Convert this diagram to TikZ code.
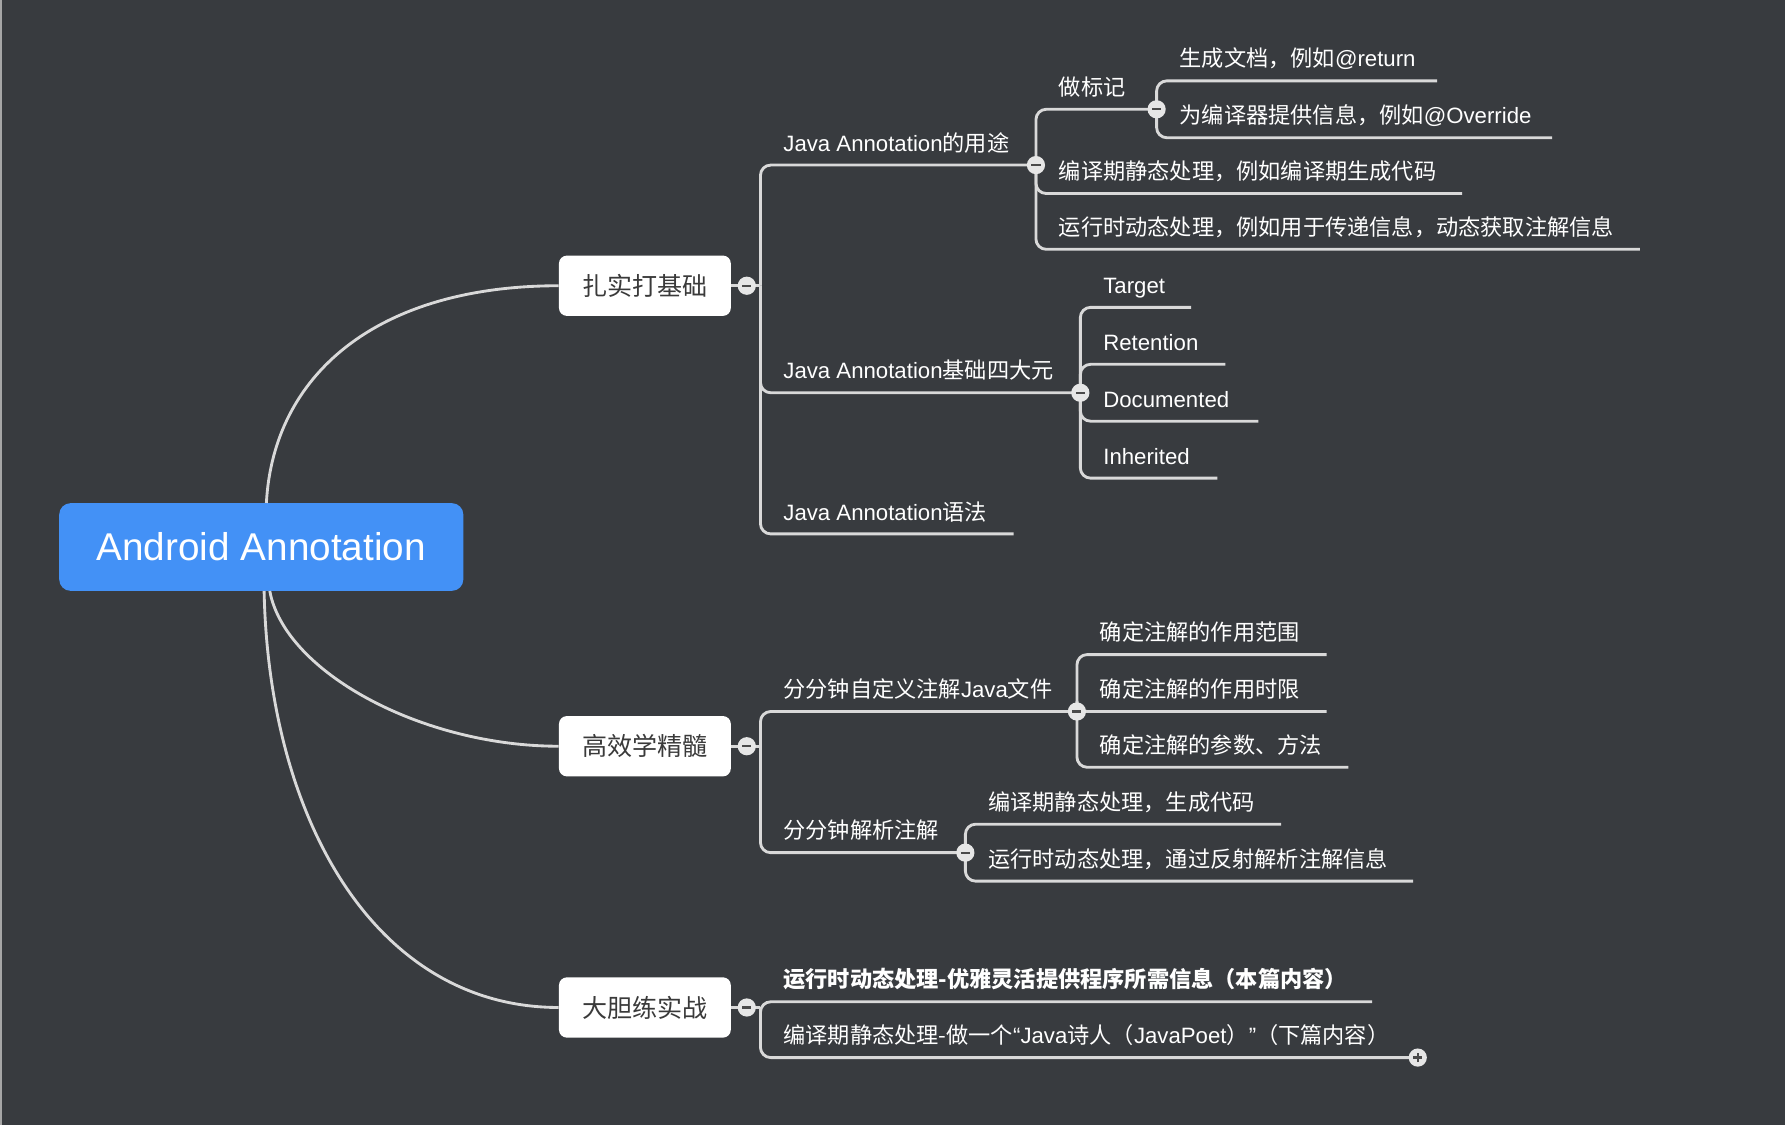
\documentclass[tikz,border=0pt]{standalone}
\usepackage{fontspec}
\setmainfont{Noto Sans CJK SC}
\newfontfamily\latf{Liberation Sans}
\usetikzlibrary{calc}
\definecolor{bg}{HTML}{383B3F}
\definecolor{linec}{HTML}{D9D9D9}
\definecolor{rootblue}{HTML}{4391F6}
\definecolor{boxtext}{HTML}{3A3A3A}
\definecolor{knob}{HTML}{E6E6E6}
\definecolor{knobmark}{HTML}{4A4A4A}
\newcommand\mmbox[2]{\makebox[#1pt][l]{\hspace*{20pt}#2}}
\newcommand\lt[1]{{\latf #1}}
\tikzset{
  conn/.style={draw=linec, line width=2.5pt, rounded corners=9pt},
  curve/.style={draw=linec, line width=2.5pt},
  leaf/.style={anchor=south west, inner xsep=0pt, inner ysep=12pt, text depth=0pt, text=white, font=\fontsize{19.5}{22}\selectfont},
  rootbox/.style={fill=rootblue, rounded corners=10pt, minimum width=355pt, minimum height=77pt, text=white, font=\latf\fontsize{34}{38}\selectfont, inner sep=0pt},
  topicbox/.style={fill=white, rounded corners=7pt, minimum width=151pt, minimum height=53pt, text=boxtext, font=\fontsize{22}{26}\selectfont, inner sep=0pt},
  knobbase/.style={circle, fill=knob, minimum size=16pt, inner sep=0pt},
  minusknob/.style={knobbase, path picture={\draw[knobmark, line width=2pt] ([xshift=-4pt]path picture bounding box.center) -- ([xshift=4pt]path picture bounding box.center);}},
  plusknob/.style={knobbase, path picture={\draw[knobmark, line width=2pt] ([xshift=-4pt]path picture bounding box.center) -- ([xshift=4pt]path picture bounding box.center) ([yshift=-4pt]path picture bounding box.center) -- ([yshift=4pt]path picture bounding box.center);}},
}
\begin{document}
\begin{tikzpicture}[x=1pt, y=-1pt]
\useasboundingbox (0,0) rectangle (1568,988);
\fill[bg] (0,0) rectangle (1568,988);
\fill[gray!70] (0,0) rectangle (1.5,988);

% root and topics
\node[rootbox] (root) at (229.5,480.5) {Android Annotation};
\node[topicbox] (t1) at (566.5,251) {扎实打基础};
\node[topicbox] (t2) at (566.5,655.5) {高效学精髓};
\node[topicbox] (t3) at (566.5,885) {大胆练实战};

\draw[curve] ([xshift=4.5pt]root.north) .. controls (240,330) and (330,251) .. (t1.west);
\draw[curve] ([xshift=7.5pt]root.south) .. controls (250,590) and (370,655.5) .. (t2.west);
\draw[curve] ([xshift=2.5pt]root.south) .. controls (236,720) and (330,885) .. (t3.west);

% branch points
\coordinate (b1) at (668,251);
\coordinate (b2) at (668,655.5);
\coordinate (b3) at (668,885);
\coordinate (bu) at (910,145);
\coordinate (bm) at (1016,96);
\coordinate (bf) at (949,345);
\coordinate (bz) at (946,625);
\coordinate (bj) at (848,749);

% level 2 under t1
\node[leaf] (use) at (668,145) {\mmbox{242}{\lt{Java Annotation}的用途}};
\node[leaf] (four) at (668,345) {\mmbox{281}{\lt{Java Annotation}基础四大元}};
\node[leaf] (syn) at (668,469) {\mmbox{222}{\lt{Java Annotation}语法}};
% level 3 under use
\node[leaf] (mark) at (910,96) {\mmbox{106}{做标记}};
\node[leaf] (comp) at (910,170) {\mmbox{374}{编译期静态处理，例如编译期生成代码}};
\node[leaf] (run) at (910,219) {\mmbox{530}{运行时动态处理，例如用于传递信息，动态获取注解信息}};
% level 4 under mark
\node[leaf] (doc) at (1016,71) {\mmbox{246}{生成文档，例如\lt{@return}}};
\node[leaf] (ovr) at (1016,121) {\mmbox{347}{为编译器提供信息，例如\lt{@Override}}};
% four elements
\node[leaf] (tgt) at (949,270) {\mmbox{97}{\lt{Target}}};
\node[leaf] (ret) at (949,320) {\mmbox{127}{\lt{Retention}}};
\node[leaf] (dcm) at (949,370) {\mmbox{156}{\lt{Documented}}};
\node[leaf] (inh) at (949,420) {\mmbox{120}{\lt{Inherited}}};
% level 2 under t2
\node[leaf] (cust) at (668,625) {\mmbox{278}{分分钟自定义注解\lt{Java}文件}};
\node[leaf] (pars) at (668,749) {\mmbox{180}{分分钟解析注解}};
\node[leaf] (rng) at (946,575) {\mmbox{219}{确定注解的作用范围}};
\node[leaf] (lim) at (946,625) {\mmbox{219}{确定注解的作用时限}};
\node[leaf] (prm) at (946,674) {\mmbox{238}{确定注解的参数、方法}};
\node[leaf] (gen) at (848,724) {\mmbox{277}{编译期静态处理，生成代码}};
\node[leaf] (refl) at (848,774) {\mmbox{393}{运行时动态处理，通过反射解析注解信息}};
% level 2 under t3
\node[leaf] (p1) at (668,880) {\mmbox{537}{\bfseries 运行时动态处理-优雅灵活提供程序所需信息（本篇内容）}};
\node[leaf] (p2) at (668,929) {\mmbox{577}{编译期静态处理-做一个\lt{“Java}诗人（\lt{JavaPoet}）\lt{”}（下篇内容）}};

% connectors
\foreach \t/\b in {t1/b1, t2/b2, t3/b3} \draw[conn] (\t.east) -- (\b);
\foreach \c in {use, four, syn} \draw[conn] (b1) -- (b1 |- \c.south west) -- (\c.south east);
\foreach \c in {mark, comp, run} \draw[conn] (bu) -- (bu |- \c.south west) -- (\c.south east);
\foreach \c in {doc, ovr} \draw[conn] (bm) -- (bm |- \c.south west) -- (\c.south east);
\foreach \c in {tgt, ret, dcm, inh} \draw[conn] (bf) -- (bf |- \c.south west) -- (\c.south east);
\foreach \c in {cust, pars} \draw[conn] (b2) -- (b2 |- \c.south west) -- (\c.south east);
\foreach \c in {rng, lim, prm} \draw[conn] (bz) -- (bz |- \c.south west) -- (\c.south east);
\foreach \c in {gen, refl} \draw[conn] (bj) -- (bj |- \c.south west) -- (\c.south east);
\foreach \c in {p1, p2} \draw[conn] (b3) -- (b3 |- \c.south west) -- (\c.south east);

% knobs
\node[minusknob] (k1) at (656,251) {};
\node[minusknob] (k2) at (656,655.5) {};
\node[minusknob] (k3) at (656,885) {};
\node[minusknob] (ku) at (bu) {};
\node[minusknob] (km) at (bm) {};
\node[minusknob] (kf) at (bf) {};
\node[minusknob] (kz) at (bz) {};
\node[minusknob] (kj) at (bj) {};
\node[plusknob] (kp) at (p2.south east) {};
\end{tikzpicture}
\end{document}
